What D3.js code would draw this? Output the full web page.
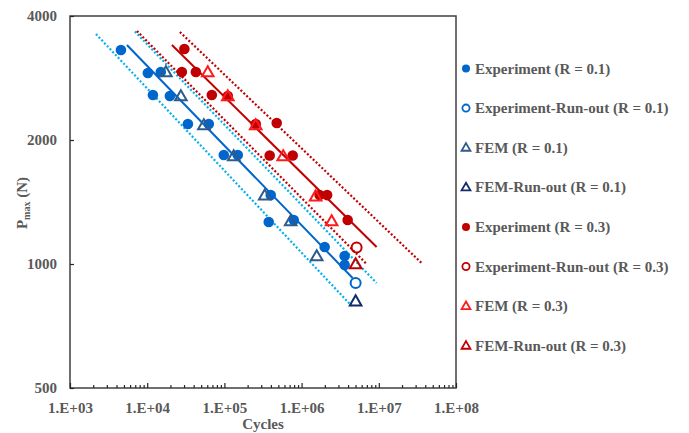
<!DOCTYPE html>
<html>
<head>
<meta charset="utf-8">
<script src="https://cdn.jsdelivr.net/npm/d3@7"></script>
<style>
  body { margin: 0; background: #fff; }
  text { font-family: "Liberation Serif", "Times New Roman", serif; font-weight: bold; fill: #595959; }
</style>
</head>
<body>
<div id="chart"></div>
<script>
// Data (cycles, Pmax in N)
const expR1N = [4570, 10200, 15000, 11860, 19660, 33650, 62800, 98200, 149000, 398000, 375000, 791000, 1990000, 3610000, 3610000]
const expR1P = [3308, 2909, 2925, 2572, 2558, 2187, 2187, 1839, 1839, 1470, 1265, 1279, 1100, 1046, 995]
const runR1N = [5010000]
const runR1P = [899]
const femR1N = [17460, 27300, 54200, 132000, 333000, 722000, 1570000]
const femR1P = [2925, 2558, 2175, 1829, 1470, 1272, 1046]
const femRunR1N = [5010000]
const femRunR1P = [813]

const expR3N = [30300, 28100, 42700, 68700, 110700, 254700, 476000, 386000, 767000, 1710000, 2140000, 3950000]
const expR3P = [3326, 2925, 2925, 2572, 2558, 2187, 2199, 1834, 1834, 1470, 1470, 1279]
const runR3N = [5160000]
const runR3P = [1097]
const femR3N = [60900, 110700, 254700, 578000, 1520000, 2450000]
const femR3P = [2925, 2558, 2175, 1829, 1462, 1272]
const femRunR3N = [5010000]
const femRunR3P = [1000]

// fit lines and scatter bands (end points)
const fitR1N = [5460, 4580000], fitR1P = [3401, 925]
const lowR1N = [2170, 4450000], lowR1P = [3617, 791]
const upR1N = [6930, 9370000], upR1P = [3668, 899]
const fitR3N = [20900, 9370000], fitR3P = [3401, 1100]
const lowR3N = [7360, 6950000], lowR3P = [3679, 1000]
const upR3N = [26500, 36900000], upR3P = [3658, 1000]

const xTicks = [1e3, 1e4, 1e5, 1e6, 1e7, 1e8]
const yTicks = [500, 1000, 2000, 4000]
const legendLabels = [
  'Experiment (R = 0.1)', 'Experiment-Run-out (R = 0.1)', 'FEM (R = 0.1)', 'FEM-Run-out (R = 0.1)',
  'Experiment (R = 0.3)', 'Experiment-Run-out (R = 0.3)', 'FEM (R = 0.3)', 'FEM-Run-out (R = 0.3)'
]

// Our canvas
const width = 689,
  height = 433,
  pLeft = 70, pRight = 456, pTop = 16, pBottom = 388

const x = d3.scaleLog().domain([1e3, 1e8]).range([pLeft, pRight])
const y = d3.scaleLog().base(2).domain([500, 4000]).range([pBottom, pTop])

let svg = d3.select('#chart')
  .append('svg')
  .attr('width', width)
  .attr('height', height)

const zip = (a, b) => a.map((d, i) => [d, b[i]])
const line = d3.line().x(d => x(d[0])).y(d => y(d[1]))

// frame
svg.append('rect')
  .attr('x', pLeft).attr('y', pTop)
  .attr('width', pRight - pLeft).attr('height', pBottom - pTop)
  .attr('fill', 'none').attr('stroke', '#404040').attr('stroke-width', 1.5)

// axes
svg.append('g')
  .attr('transform', `translate(${pLeft},0)`)
  .call(d3.axisLeft(y).tickValues(yTicks).tickFormat(d3.format('d')).tickSize(-4).tickPadding(13))
svg.append('g')
  .attr('transform', `translate(0,${pBottom})`)
  .call(d3.axisBottom(x).tickValues(xTicks).tickFormat(d => '1.E+0' + Math.round(Math.log10(d))).tickSize(-5).tickPadding(14))
let minor = []
for (let k = 3; k < 8; k++) for (let m = 2; m < 10; m++) minor.push(m * Math.pow(10, k))
svg.append('g')
  .attr('transform', `translate(0,${pBottom})`)
  .call(d3.axisBottom(x).tickValues(minor).tickFormat('').tickSize(-3))

svg.selectAll('.domain').remove()
svg.selectAll('.tick line').attr('stroke', '#262626').attr('stroke-width', 1.2)
svg.selectAll('.tick text').style('font-size', '15px').style('font-family', '"Liberation Serif", serif').style('font-weight', 'bold').attr('fill', '#595959')

svg.append('text')
  .attr('x', (pLeft + pRight) / 2).attr('y', 424)
  .attr('text-anchor', 'middle').attr('dominant-baseline', 'central')
  .style('font-size', '15px')
  .text('Cycles')

let yl = svg.append('text')
  .attr('transform', 'translate(27,203) rotate(-90)')
  .attr('text-anchor', 'middle')
  .style('font-size', '15px')
yl.append('tspan').text('P')
yl.append('tspan').text('max').style('font-size', '10px').attr('dy', 3)
yl.append('tspan').text(' (N)').attr('dy', -3)

// lines
const lines = [
  [lowR1N, lowR1P, '#00B0F0', true],
  [upR1N, upR1P, '#00B0F0', true],
  [fitR1N, fitR1P, '#0066CC', false],
  [lowR3N, lowR3P, '#C00000', true],
  [upR3N, upR3P, '#C00000', true],
  [fitR3N, fitR3P, '#C00000', false]
]
lines.forEach(l => {
  svg.append('path')
    .datum(zip(l[0], l[1]))
    .attr('d', line)
    .attr('fill', 'none')
    .attr('stroke', l[2])
    .attr('stroke-width', l[3] ? 2.2 : 2)
    .attr('stroke-dasharray', l[3] ? '2,2' : null)
})

// markers
const tri = d3.symbol().type(d3.symbolTriangle).size(58)
const triSmall = d3.symbol().type(d3.symbolTriangle).size(34)

let circles = (n, p, color, filled) => {
  svg.append('g').selectAll('circle')
    .data(zip(n, p))
    .enter()
    .append('circle')
    .attr('cx', d => x(d[0]))
    .attr('cy', d => y(d[1]))
    .attr('r', filled ? 5.3 : 5)
    .attr('fill', filled ? color : 'none')
    .attr('stroke', filled ? 'none' : color)
    .attr('stroke-width', 2)
}
let triangles = (n, p, color) => {
  svg.append('g').selectAll('path')
    .data(zip(n, p))
    .enter()
    .append('path')
    .attr('d', tri)
    .attr('transform', d => `translate(${x(d[0])},${y(d[1]) + 1})`)
    .attr('fill', 'none')
    .attr('stroke', color)
    .attr('stroke-width', 2)
}

circles(expR1N, expR1P, '#0066CC', true)
circles(runR1N, runR1P, '#0066CC', false)
circles(expR3N, expR3P, '#C00000', true)
circles(runR3N, runR3P, '#C00000', false)
triangles(femR1N, femR1P, '#2F5A8C')
triangles(femRunR1N, femRunR1P, '#102A6B')
triangles(femR3N, femR3P, '#FF1A1A')
triangles(femRunR3N, femRunR3P, '#C00000')

// legend
const legendStyle = [
  ['c', '#0066CC', true], ['c', '#0066CC', false], ['t', '#2F5A8C'], ['t', '#102A6B'],
  ['c', '#C00000', true], ['c', '#C00000', false], ['t', '#FF1A1A'], ['t', '#C00000']
]
let legend = svg.append('g')
legendLabels.forEach((label, i) => {
  const ly = 68.5 + i * 39.6
  const s = legendStyle[i]
  if (s[0] === 'c') {
    legend.append('circle')
      .attr('cx', 466).attr('cy', ly)
      .attr('r', s[2] ? 4 : 3.6)
      .attr('fill', s[2] ? s[1] : 'none')
      .attr('stroke', s[2] ? 'none' : s[1])
      .attr('stroke-width', 1.8)
  } else {
    legend.append('path')
      .attr('d', triSmall)
      .attr('transform', `translate(466,${ly + 0.5})`)
      .attr('fill', 'none').attr('stroke', s[1]).attr('stroke-width', 1.8)
  }
  legend.append('text')
    .attr('x', 475).attr('y', ly)
    .attr('dominant-baseline', 'central')
    .style('font-size', '15px')
    .text(label)
})
</script>
</body>
</html>
